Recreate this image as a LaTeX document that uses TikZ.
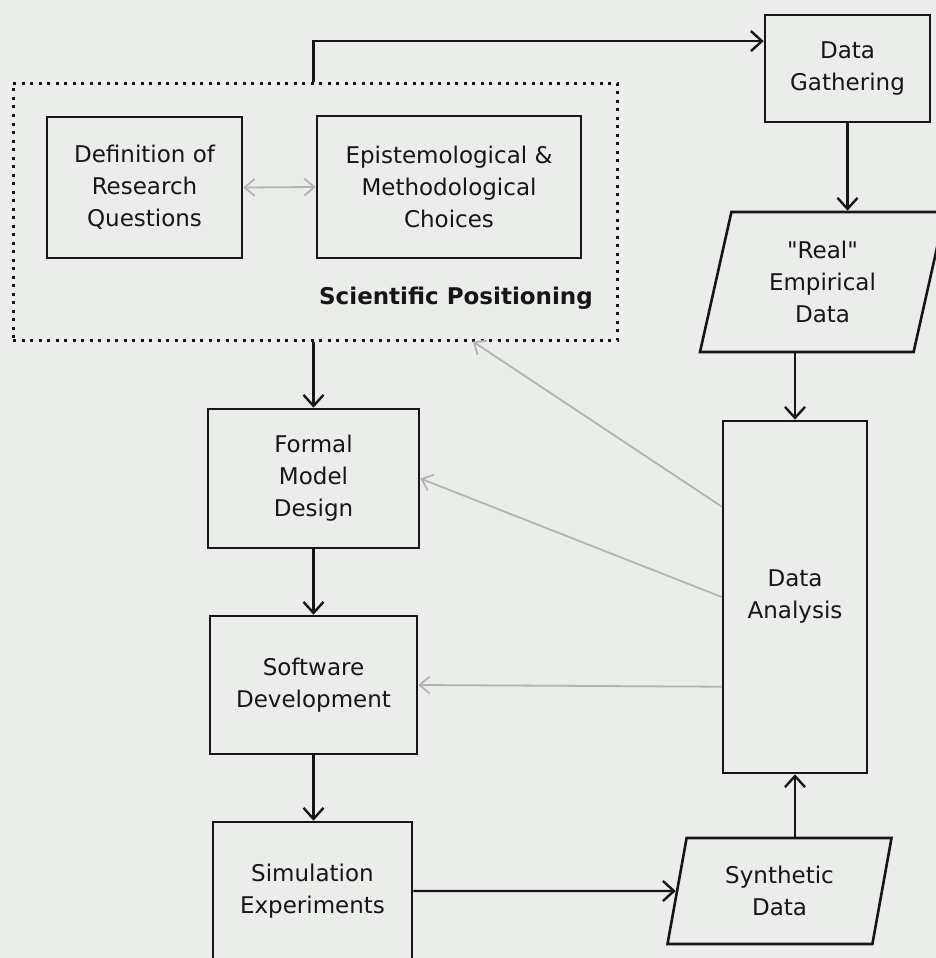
\documentclass[tikz,border=0pt]{standalone}
\usepackage{fontspec}
\setmainfont{DejaVu Sans}[Ligatures=TeXOff]
\usetikzlibrary{arrows.meta,shapes.geometric,calc}
\definecolor{bgc}{RGB}{235,237,234}
\definecolor{ink}{RGB}{22,22,22}
\definecolor{soft}{RGB}{178,180,178}
\begin{document}
\begin{tikzpicture}[x=1pt,y=-1pt,
  box/.style={draw=ink, line width=2.6pt, align=center, inner sep=0pt,
              font=\fontsize{23}{32}\selectfont, text=ink},
  dotbox/.style={draw=ink, line width=3pt, dash pattern=on 3pt off 5.5pt},
  flow/.style={draw=ink, line width=2.4pt, -{Straight Barb[length=11pt,width=20pt]}},
  hint/.style={draw=soft, line width=1.8pt, -{Straight Barb[length=10pt,width=17pt]}},
  databox/.style={box, trapezium, trapezium left angle=69, trapezium right angle=111,
              trapezium stretches body}
]
\fill[bgc] (0,0) rectangle (936,958);
\useasboundingbox (0,0) rectangle (936,958);
\clip (0,0) rectangle (936,958);

\node[box, minimum width=195pt, minimum height=141pt] (def) at (144.5,187.5) {Definition of\\Research\\Questions};
\node[box, minimum width=264pt, minimum height=142pt] (epi) at (449,187) {Epistemological \&\\Methodological\\Choices};
\node[font=\bfseries\fontsize{23}{28}\selectfont, text=ink, anchor=east, inner sep=0pt] (sptext) at (593,298) {Scientific Positioning};
\node[dotbox, minimum width=604pt, minimum height=257pt] (pos) at (315,211.5) {};

\node[box, minimum width=165pt, minimum height=107pt] (dg) at (847.5,68.5) {Data\\Gathering};
\node[databox, minimum width=245pt, minimum height=140pt] (real) at (822.5,282) {"Real"\\Empirical\\Data};
\node[box, minimum width=144pt, minimum height=352pt] (da) at (795,597) {Data\\Analysis};
\node[box, minimum width=211pt, minimum height=139pt] (fmd) at (313.5,478.5) {Formal\\Model\\Design};
\node[box, minimum width=207pt, minimum height=138pt] (sd) at (313.5,685) {Software\\Development};
\node[box, minimum width=199pt, minimum height=138pt] (sim) at (312.5,891) {Simulation\\Experiments};
\node[databox, minimum width=224pt, minimum height=106pt] (syn) at (779.5,891) {Synthetic\\Data};

\draw[flow] (pos.north -| fmd.north) |- ($(dg.north west)!0.25!(dg.south west)$);
\draw[flow] (dg.south) -- (dg.south |- real.north);
\draw[flow] (real.south -| da.north) -- (da.north);
\draw[flow] (pos.south -| fmd.north) -- (fmd.north);
\draw[flow] (fmd.south) -- (sd.north);
\draw[flow] (sd.south) -- (sd.south |- sim.north);
\draw[flow] (sim.east) -- (syn.west);
\draw[flow] (syn.north -| da.south) -- (da.south);

\draw[hint] ($(da.north west)!0.245!(da.south west)$) -- ($(pos.south west)!0.76!(pos.south east)$);
\draw[hint] (da.west) -- (fmd.east);
\draw[hint] ($(da.north west)!0.753!(da.south west)$) -- (sd.east);
\draw[hint, {Straight Barb[length=10pt,width=17pt]}-{Straight Barb[length=10pt,width=17pt]}] (def.east) -- (epi.west);
\end{tikzpicture}
\end{document}
